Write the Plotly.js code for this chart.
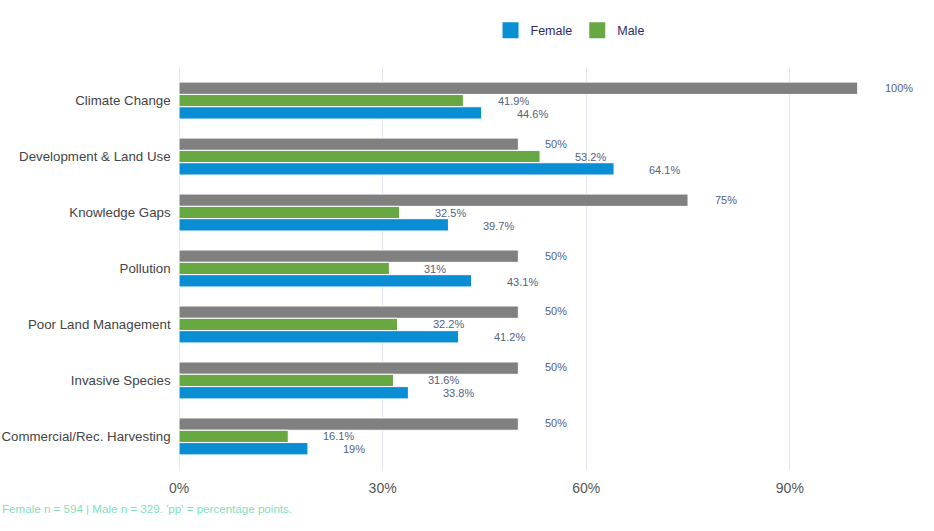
<!DOCTYPE html>
<html>
<head>
<meta charset="utf-8">
<script src="https://cdn.plot.ly/plotly-3.0.1.min.js"></script>
<style>
  html, body { margin: 0; padding: 0; background: #fff; }
  #chart { width: 934px; height: 531px; }
</style>
</head>
<body>
<div id="chart"></div>
<script>
const categories = [
  "Climate Change",
  "Development & Land Use",
  "Knowledge Gaps",
  "Pollution",
  "Poor Land Management",
  "Invasive Species",
  "Commercial/Rec. Harvesting",
];
const baseline = [100, 50, 75, 50, 50, 50, 50];
const male = [41.9, 53.2, 32.5, 31, 32.2, 31.6, 16.1];
const female = [44.6, 64.1, 39.7, 43.1, 41.2, 33.8, 19];
const xTicks = [0, 30, 60, 90];
const xTickText = ["0%", "30%", "60%", "90%"];
const note = "Female n = 594 | Male n = 329. 'pp' = percentage points.";

const GREY = "#808080";
const GREEN = "#67a843";
const BLUE = "#098ed3";

function barTrace(name, values, color) {
  return {
    name: name,
    type: "bar",
    orientation: "h",
    x: values,
    y: categories,
    showlegend: false,
    hoverinfo: "x+name",
    marker: { color: color, line: { color: "#ffffff", width: 1 } },
  };
}

// legend-only entries so the swatches come out as big squares
function legendTrace(name, color) {
  return {
    name: name,
    type: "scatter",
    mode: "markers",
    x: [null],
    y: [null],
    marker: { symbol: "square", size: 16, color: color },
    hoverinfo: "skip",
  };
}

function valueLabels(values, shift, gap) {
  return values.map((v, i) => ({
    x: v,
    y: categories[i],
    xref: "x",
    yref: "y",
    text: v + "%",
    showarrow: false,
    xanchor: "left",
    xshift: gap,
    yshift: shift,
    font: { size: 11, color: "#56617c" },
  }));
}

const data = [
  barTrace("Total", baseline, GREY),
  barTrace("Male", male, GREEN),
  barTrace("Female", female, BLUE),
  legendTrace("Female", BLUE),
  legendTrace("Male", GREEN),
];

const annotations = [
  ...valueLabels(baseline, 13, 25),
  ...valueLabels(male, 0, 33),
  ...valueLabels(female, -13, 33),
  {
    text: note,
    xref: "paper",
    yref: "paper",
    x: -0.244,
    y: -0.095,
    xanchor: "left",
    yanchor: "middle",
    showarrow: false,
    font: { size: 11.6, color: "#7fdfbd" },
  },
];

const layout = {
  width: 934,
  height: 531,
  margin: { t: 67, b: 61, l: 179, r: 22 },
  paper_bgcolor: "#ffffff",
  plot_bgcolor: "#ffffff",
  font: { family: "Liberation Sans, Arial, sans-serif", color: "#444444" },
  barmode: "group",
  bargap: 0.34,
  bargroupgap: 0,
  showlegend: true,
  legend: {
    orientation: "h",
    x: 0.425,
    xanchor: "left",
    y: 1.09,
    yanchor: "middle",
    font: { size: 12.5, color: "#2b2a6b" },
    itemwidth: 30,
    tracegroupgap: 0,
  },
  xaxis: {
    range: [0, 108],
    tickvals: xTicks,
    ticktext: xTickText,
    showgrid: true,
    gridcolor: "#e1e5ee",
    zeroline: true,
    zerolinecolor: "#e1e5ee",
    showline: false,
    ticks: "",
    ticklabelstandoff: 8,
    tickfont: { size: 14, color: "#555555" },
    fixedrange: true,
  },
  yaxis: {
    type: "category",
    categoryorder: "array",
    categoryarray: categories,
    range: [6.6, -0.6],
    showgrid: false,
    zeroline: false,
    ticks: "",
    ticksuffix: "  ",
    tickfont: { size: 13.3, color: "#444444" },
    fixedrange: true,
  },
  annotations: annotations,
};

Plotly.newPlot("chart", data, layout, { displayModeBar: false, staticPlot: true });
</script>
</body>
</html>
